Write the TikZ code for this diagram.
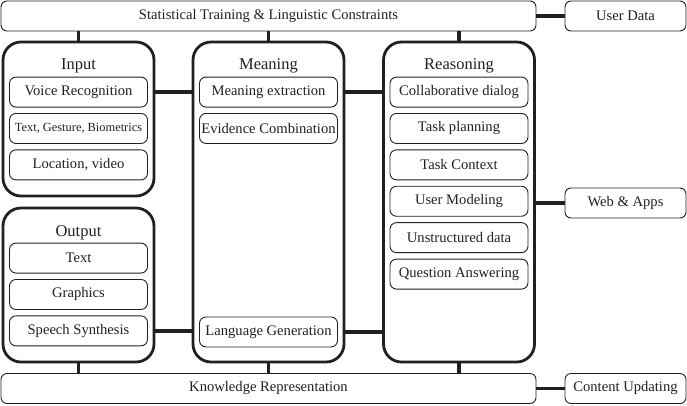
\documentclass[tikz,border=0pt]{standalone}
\usepackage{fontspec}
\setmainfont{Liberation Serif}
\usepackage{xcolor}
\definecolor{inkgray}{RGB}{35, 31, 32}
\usepackage{tikz}
\usetikzlibrary{positioning}

\begin{document}
\begin{tikzpicture}[
    x=1pt, y=-1pt,
    node distance=5.5pt,
    bar/.style={draw=inkgray, line width=0.9pt, rounded corners=6pt,
                minimum height=30pt, inner sep=0pt, text=inkgray,
                font=\fontsize{14.6}{16}\selectfont},
    side/.style={bar, minimum width=121pt},
    group/.style={draw=inkgray, line width=2.8pt, rounded corners=18pt,
                  minimum width=151pt, inner sep=0pt},
    title/.style={text=inkgray, font=\fontsize{16.5}{18}\selectfont},
    item/.style={draw=inkgray, line width=0.9pt, rounded corners=6.5pt,
                 minimum width=138pt, minimum height=30pt, inner sep=0pt,
                 text=inkgray, font=\fontsize{14.6}{16}\selectfont},
    link/.style={draw=inkgray, line width=3.6pt}
  ]
  \useasboundingbox (0,0) rectangle (687,405);

  % bars along top and bottom
  \node[bar, minimum width=535pt] (stats) at (268.5,16)  {Statistical Training \& Linguistic Constraints};
  \node[bar, minimum width=535pt] (know)  at (268.5,388.5) {Knowledge Representation};
  \node[side] (user) at (625.5,16)    {User Data};
  \node[side] (web)  at (625.5,203)   {Web \& Apps};
  \node[side] (cont) at (625.5,388.5) {Content Updating};

  % the four big groups
  \node[group, minimum height=154pt] (inp)  at (78.5,119) {};
  \node[group, minimum height=154pt] (outp) at (78.5,285) {};
  \node[group, minimum height=320pt] (mean) at (268.5,202) {};
  \node[group, minimum height=320pt] (reas) at (459,202) {};

  \node[title] (tinp)  at ([yshift=-25.5pt]inp.north)  {Input};
  \node[title] (toutp) at ([yshift=-26pt]outp.north)   {Output};
  \node[title] (tmean) at ([yshift=-25.5pt]mean.north) {Meaning};
  \node[title] (treas) at ([yshift=-25.5pt]reas.north) {Reasoning};

  % input
  \node[item, anchor=north] (voice) at ([yshift=-36pt]inp.north) {Voice Recognition};
  \node[item, below=of voice, font=\fontsize{12.4}{14}\selectfont] (gest) {Text, Gesture, Biometrics};
  \node[item, below=of gest] (loc) {Location, video};

  % output
  \node[item, anchor=north] (otext) at ([yshift=-36pt]outp.north) {Text};
  \node[item, below=of otext] (graph) {Graphics};
  \node[item, below=of graph] (speech) {Speech Synthesis};

  % meaning
  \node[item, anchor=north] (extr) at ([yshift=-36pt]mean.north) {Meaning extraction};
  \node[item, below=of extr] (evid) {Evidence Combination};
  \node[item, anchor=south] (lang) at ([yshift=16pt]mean.south) {Language Generation};

  % reasoning
  \node[item, anchor=north] (collab) at ([yshift=-36pt]reas.north) {Collaborative dialog};
  \node[item, below=of collab] (plan)  {Task planning};
  \node[item, below=of plan]   (ctx)   {Task Context};
  \node[item, below=of ctx]    (model) {User Modeling};
  \node[item, below=of model]  (unstr) {Unstructured data};
  \node[item, below=of unstr]  (qa)    {Question Answering};

  % connectors
  \draw[link] (stats) -- (user);
  \draw[link] (know)  -- (cont);
  \draw[link] (reas.east |- web) -- (web);
  \draw[link] (inp.north)  -- (inp.north |- stats.south);
  \draw[link] (mean.north) -- (mean.north |- stats.south);
  \draw[link] (reas.north) -- (reas.north |- stats.south);
  \draw[link] (outp.south) -- (outp.south |- know.north);
  \draw[link] (mean.south) -- (mean.south |- know.north);
  \draw[link] (reas.south) -- (reas.south |- know.north);
  \draw[link] (voice.east -| inp.east)    -- (voice.east -| mean.west);
  \draw[link] (extr.east -| mean.east)    -- (extr.east -| reas.west);
  \draw[link] (speech.east -| outp.east)  -- (speech.east -| mean.west);
  \draw[link] (lang.east -| mean.east)    -- (lang.east -| reas.west);
\end{tikzpicture}
\end{document}
